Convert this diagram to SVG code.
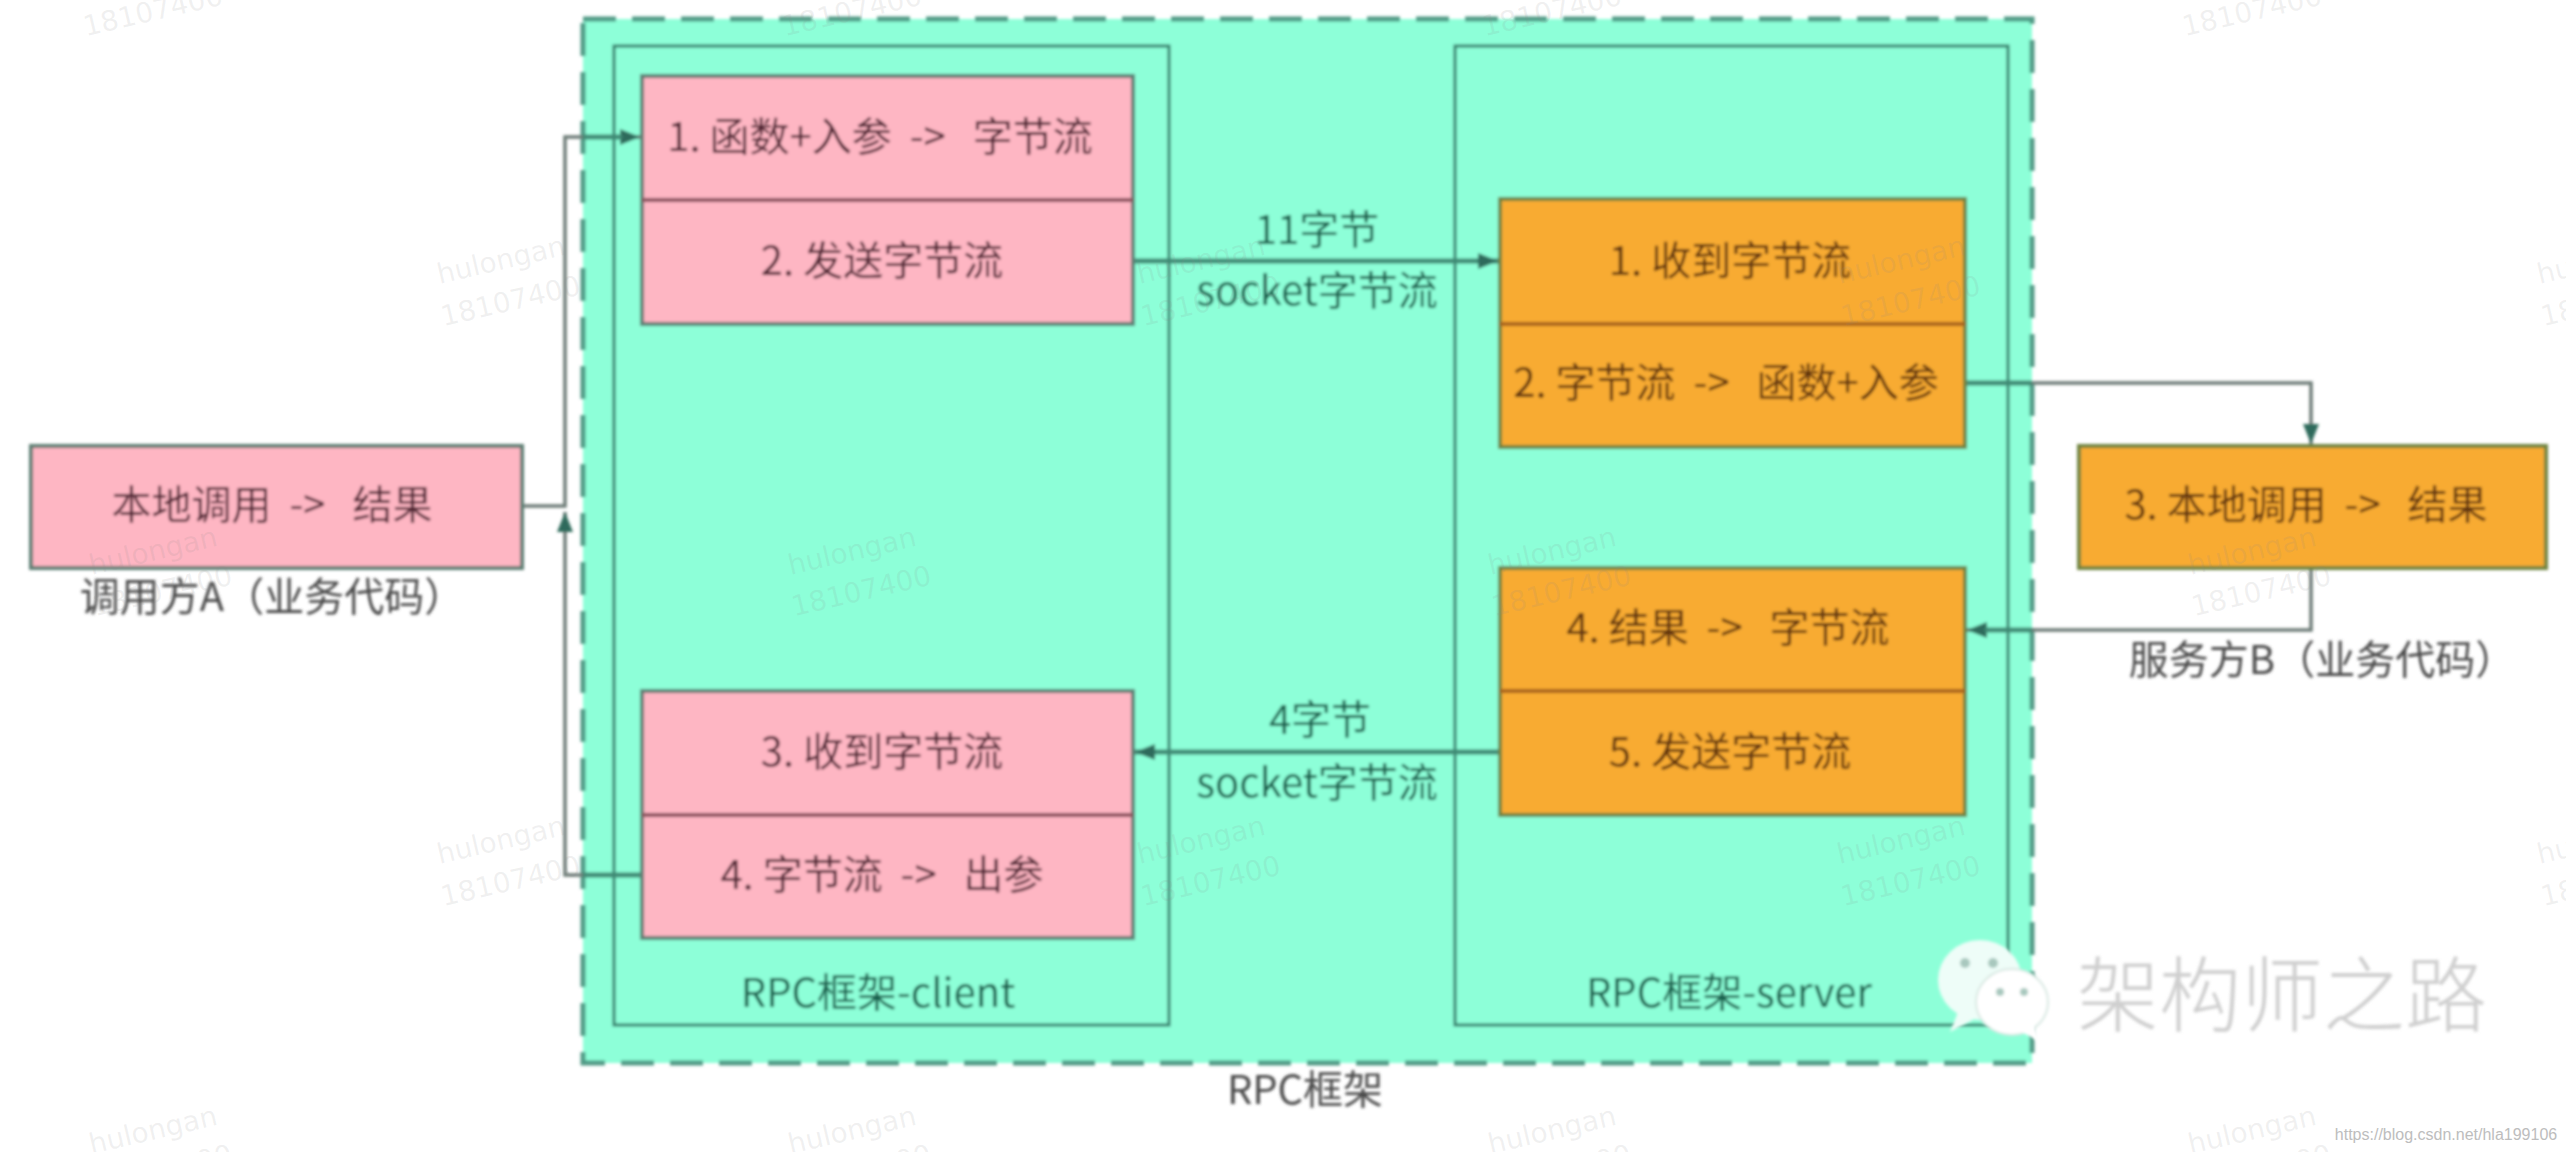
<svg xmlns="http://www.w3.org/2000/svg" width="2566" height="1152" viewBox="0 0 2566 1152">
<style>
text{font-family:"Noto Sans CJK SC","Liberation Sans",sans-serif;text-anchor:middle;dominant-baseline:central;font-size:40px}
.pk{fill:#feb6c3;stroke:#5f7f74;stroke-width:4}
.or{fill:#f8ab33;stroke:#6f8440;stroke-width:4}
.dp{stroke:#8a4f5c;stroke-width:4;fill:none}
.do{stroke:#a8621f;stroke-width:4;fill:none}
.tp{fill:#4f2430}
.to{fill:#5e3008}
.tg{fill:#155f4b}
.tw{fill:#4a4a4a}
.fr{fill:none;stroke:#357f6b;stroke-width:3}
.cn{fill:none;stroke:#6c7a76;stroke-width:3.5}
.cg{fill:none;stroke:#3f8a74;stroke-width:5}
.wm text{font-family:"DejaVu Sans",sans-serif;font-size:28px;fill:#8a8a8a;fill-opacity:.13}
</style>
<defs>
<filter id="soft" x="-2%" y="-2%" width="104%" height="104%"><feGaussianBlur stdDeviation="1.6"/></filter>
<marker id="ah" markerUnits="userSpaceOnUse" markerWidth="22" markerHeight="18" refX="20" refY="9" orient="auto"><path d="M0,1 L20,9 L0,17 Z" fill="#2f6b5c"/></marker>
</defs>
<g filter="url(#soft)">
<g id="rpc-frame">
<rect x="583" y="19" width="1449" height="1044" fill="#8dffd8"/>
<rect x="583" y="19" width="1449" height="1044" fill="none" stroke="#4f9a85" stroke-width="5" stroke-dasharray="33 16"/>
<text class="tw" x="1305" y="1087">RPC框架</text>
</g>
<g id="client-frame">
<rect class="fr" x="614" y="46" width="555" height="979"/>
<text class="tg" x="878" y="990">RPC框架-client</text>
</g>
<g id="server-frame">
<rect class="fr" x="1455" y="46" width="553" height="979"/>
<text class="tg" x="1729" y="990">RPC框架-server</text>
</g>
<g id="connectors">
<path class="cn" d="M522,506 H565 V137 H640" marker-end="url(#ah)"/>
<path class="cn" d="M642,875 H565 V512" marker-end="url(#ah)"/>
<path class="cg" d="M1133,261 H1498" marker-end="url(#ah)"/>
<path class="cg" d="M1500,752 H1135" marker-end="url(#ah)"/>
<path class="cn" d="M1965,383 H2311 V444" marker-end="url(#ah)"/>
<path class="cn" d="M2311,567 V630 H1967" marker-end="url(#ah)"/>
<path class="cg" d="M583,137 H622 M583,875 H642 M1965,383 H2032 M2032,630 H1985"/>
<text class="tg" x="1317" y="227">11字节</text>
<text class="tg" x="1317" y="288">socket字节流</text>
<text class="tg" x="1320" y="717">4字节</text>
<text class="tg" x="1317" y="780">socket字节流</text>
</g>
<g id="caller-a">
<rect class="pk" x="31" y="446" width="491" height="122"/>
<text class="tp" x="272" y="502" xml:space="preserve">本地调用  -&gt;   结果</text>
<text class="tw" x="272" y="594">调用方A（业务代码）</text>
</g>
<g id="client-send">
<rect class="pk" x="642" y="76" width="491" height="248"/>
<path class="dp" d="M642,200 H1133"/>
<text class="tp" x="880" y="134" xml:space="preserve">1. 函数+入参  -&gt;   字节流</text>
<text class="tp" x="882" y="258">2. 发送字节流</text>
</g>
<g id="client-recv">
<rect class="pk" x="642" y="691" width="491" height="247"/>
<path class="dp" d="M642,815 H1133"/>
<text class="tp" x="882" y="749">3. 收到字节流</text>
<text class="tp" x="882" y="872" xml:space="preserve">4. 字节流  -&gt;   出参</text>
</g>
<g id="server-recv">
<rect class="or" x="1500" y="199" width="465" height="248"/>
<path class="do" d="M1500,324 H1965"/>
<text class="to" x="1730" y="258">1. 收到字节流</text>
<text class="to" x="1726" y="380" xml:space="preserve">2. 字节流  -&gt;   函数+入参</text>
</g>
<g id="server-send">
<rect class="or" x="1500" y="568" width="465" height="247"/>
<path class="do" d="M1500,691 H1965"/>
<text class="to" x="1728" y="625" xml:space="preserve">4. 结果  -&gt;   字节流</text>
<text class="to" x="1730" y="749">5. 发送字节流</text>
</g>
<g id="service-b">
<rect class="or" x="2079" y="446" width="467" height="122"/>
<text class="to" x="2306" y="502" xml:space="preserve">3. 本地调用  -&gt;   结果</text>
<text class="tw" x="2322" y="657">服务方B（业务代码）</text>
</g>
</g>
<g id="wechat-mark" filter="url(#soft)">
<ellipse cx="1980" cy="980" rx="42" ry="40" fill="#eefdf8"/>
<path d="M1958,1012 L1950,1032 L1980,1016 Z" fill="#eefdf8"/>
<ellipse cx="2012" cy="1002" rx="36" ry="33" fill="#fff" stroke="#d8e8e2" stroke-width="2"/>
<path d="M2018,1030 L2040,1042 L2034,1024 Z" fill="#fff"/>
<circle cx="1965" cy="963" r="5" fill="#a8c8be"/><circle cx="1993" cy="963" r="5" fill="#a8c8be"/>
<circle cx="2000" cy="992" r="4" fill="#a8c8be"/><circle cx="2024" cy="992" r="4" fill="#a8c8be"/>
<text x="2282" y="989" style="font-size:82px;font-weight:300;fill:#cfcfcf">架构师之路</text>
</g>
<g id="watermarks" class="wm">
<g transform="rotate(-13 153 551)"><text x="153" y="551">hulongan</text><text x="153" y="592">18107400</text></g>
<g transform="rotate(-13 852 551)"><text x="852" y="551">hulongan</text><text x="852" y="592">18107400</text></g>
<g transform="rotate(-13 1552 551)"><text x="1552" y="551">hulongan</text><text x="1552" y="592">18107400</text></g>
<g transform="rotate(-13 2252 551)"><text x="2252" y="551">hulongan</text><text x="2252" y="592">18107400</text></g>
<g transform="rotate(-13 153 1130)"><text x="153" y="1130">hulongan</text><text x="153" y="1171">18107400</text></g>
<g transform="rotate(-13 852 1130)"><text x="852" y="1130">hulongan</text><text x="852" y="1171">18107400</text></g>
<g transform="rotate(-13 1552 1130)"><text x="1552" y="1130">hulongan</text><text x="1552" y="1171">18107400</text></g>
<g transform="rotate(-13 2252 1130)"><text x="2252" y="1130">hulongan</text><text x="2252" y="1171">18107400</text></g>
<g transform="rotate(-13 153 11)"><text x="153" y="11">18107400</text></g>
<g transform="rotate(-13 852 11)"><text x="852" y="11">18107400</text></g>
<g transform="rotate(-13 1552 11)"><text x="1552" y="11">18107400</text></g>
<g transform="rotate(-13 2252 11)"><text x="2252" y="11">18107400</text></g>
<g transform="rotate(-13 501 260)"><text x="501" y="260">hulongan</text><text x="501" y="302">18107400</text></g>
<g transform="rotate(-13 1201 260)"><text x="1201" y="260">hulongan</text><text x="1201" y="302">18107400</text></g>
<g transform="rotate(-13 1901 260)"><text x="1901" y="260">hulongan</text><text x="1901" y="302">18107400</text></g>
<g transform="rotate(-13 2601 260)"><text x="2601" y="260">hulongan</text><text x="2601" y="302">18107400</text></g>
<g transform="rotate(-13 501 840)"><text x="501" y="840">hulongan</text><text x="501" y="882">18107400</text></g>
<g transform="rotate(-13 1201 840)"><text x="1201" y="840">hulongan</text><text x="1201" y="882">18107400</text></g>
<g transform="rotate(-13 1901 840)"><text x="1901" y="840">hulongan</text><text x="1901" y="882">18107400</text></g>
<g transform="rotate(-13 2601 840)"><text x="2601" y="840">hulongan</text><text x="2601" y="882">18107400</text></g>
</g>
<text id="source-url" x="2446" y="1134" style="font-family:'Liberation Sans',sans-serif;font-size:16px;fill:#bdbdbd">https://blog.csdn.net/hla199106</text>
</svg>
